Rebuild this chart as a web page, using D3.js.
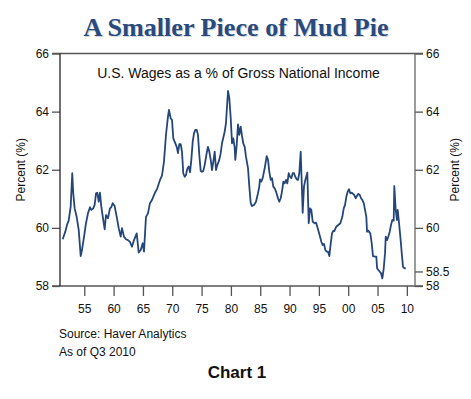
<!DOCTYPE html>
<html>
<head>
<meta charset="utf-8">
<script src="https://cdn.jsdelivr.net/npm/d3@7"></script>
<style>
  body { margin: 0; background: #fff; }
  svg { display: block; }
  text { font-family: "Liberation Sans", Arial, sans-serif; fill: #111; }
</style>
</head>
<body>
<div id="chart"></div>
<script>
// quarterly-ish readings
const years = [
  1951.32, 1951.76, 1952.10, 1952.34, 1952.68, 1952.95, 1953.12, 1953.36, 1953.70, 1954.05,
  1954.39, 1954.61, 1954.95, 1955.29, 1955.63, 1955.97, 1956.19, 1956.53, 1956.77, 1957.00,
  1957.22, 1957.46, 1957.68, 1957.90, 1958.24, 1958.48, 1958.70, 1959.04, 1959.38, 1959.60,
  1959.84, 1960.18, 1960.53, 1960.87, 1961.21, 1961.43, 1961.77, 1962.11, 1962.45, 1962.79,
  1963.13, 1963.48, 1963.94, 1964.28, 1964.62, 1964.96, 1965.18, 1965.52, 1965.86, 1966.20,
  1966.54, 1967.01, 1967.45, 1967.91, 1968.25, 1968.59, 1968.93, 1969.27, 1969.44, 1969.73,
  1969.96, 1970.18, 1970.52, 1970.76, 1970.98, 1971.20, 1971.44, 1971.66, 1971.88, 1972.12,
  1972.34, 1972.56, 1972.80, 1973.03, 1973.25, 1973.49, 1973.71, 1973.93, 1974.17, 1974.39,
  1974.61, 1974.85, 1975.07, 1975.29, 1975.53, 1975.87, 1976.09, 1976.32, 1976.56, 1976.78,
  1977.00, 1977.24, 1977.46, 1977.68, 1978.02, 1978.26, 1978.48, 1978.70, 1978.94, 1979.16,
  1979.39, 1979.51, 1979.73, 1979.97, 1980.19, 1980.41, 1980.65, 1980.75, 1980.99, 1981.21,
  1981.43, 1981.67, 1981.89, 1982.11, 1982.35, 1982.57, 1982.92, 1983.14, 1983.38, 1983.60,
  1983.94, 1984.28, 1984.62, 1984.84, 1984.96, 1985.18, 1985.42, 1985.76, 1986.10, 1986.33,
  1986.55, 1986.79, 1987.01, 1987.23, 1987.47, 1987.69, 1988.03, 1988.25, 1988.49, 1988.71,
  1988.94, 1989.17, 1989.40, 1989.62, 1989.86, 1990.08, 1990.30, 1990.54, 1990.76, 1990.98,
  1991.22, 1991.44, 1991.66, 1991.90, 1992.12, 1992.24, 1992.46, 1992.69, 1993.03, 1993.27,
  1993.49, 1993.71, 1993.95, 1994.29, 1994.51, 1994.73, 1994.97, 1995.19, 1995.42, 1995.66,
  1995.88, 1996.10, 1996.34, 1996.56, 1996.78, 1997.02, 1997.24, 1997.46, 1997.63, 1997.97,
  1998.31, 1998.66, 1999.00, 1999.24, 1999.46, 1999.68, 1999.92, 2000.14, 2000.36, 2000.60,
  2000.82, 2001.04, 2001.28, 2001.50, 2001.73, 2001.97, 2002.19, 2002.41, 2002.65, 2002.87,
  2003.09, 2003.21, 2003.43, 2003.77, 2004.01, 2004.23, 2004.57, 2004.80, 2004.92, 2005.14,
  2005.38, 2005.60, 2005.82, 2006.06, 2006.28, 2006.40, 2006.62, 2006.84, 2007.08, 2007.30,
  2007.52, 2007.76, 2007.86, 2008.10, 2008.32, 2008.44, 2008.67, 2008.89, 2009.13, 2009.35,
  2009.57, 2009.81
];
const wages = [
  59.61, 59.87, 60.13, 60.25, 60.73, 61.88, 61.19, 60.67, 60.38, 59.93,
  59.03, 59.24, 59.68, 60.16, 60.50, 60.71, 60.62, 60.67, 60.79, 61.19,
  61.21, 60.90, 61.21, 60.73, 60.27, 59.95, 60.44, 60.33, 60.67, 60.71,
  60.85, 60.75, 60.38, 59.99, 59.70, 59.99, 59.70, 59.61, 59.58, 59.52,
  59.35, 59.58, 59.81, 59.15, 59.24, 59.47, 59.18, 60.38, 60.50, 60.85,
  60.96, 61.19, 61.36, 61.65, 61.80, 62.28, 63.20, 63.83, 64.06, 63.77,
  63.71, 63.08, 62.91, 62.79, 62.57, 62.88, 62.88, 62.62, 61.88, 61.76,
  61.82, 62.03, 62.11, 61.91, 62.34, 62.97, 63.25, 63.37, 63.37, 63.20,
  62.51, 61.96, 61.93, 61.96, 62.16, 62.57, 62.79, 62.62, 62.34, 61.99,
  62.28, 62.62, 61.99, 62.16, 62.34, 62.57, 62.91, 63.10, 63.31, 63.60,
  64.34, 64.71, 64.46, 63.77, 62.91, 63.08, 62.74, 62.34, 62.85, 63.56,
  63.20, 63.48, 63.17, 62.91, 62.79, 62.45, 62.05, 61.42, 60.85, 60.75,
  60.79, 60.90, 61.19, 61.42, 61.67, 61.59, 61.71, 62.05, 62.47, 62.34,
  61.93, 61.65, 61.71, 61.42, 61.36, 61.25, 61.02, 60.90, 61.02, 61.25,
  61.59, 61.53, 61.65, 61.53, 61.88, 61.76, 61.71, 61.88, 61.88, 61.76,
  61.67, 61.65, 61.88, 62.62, 61.30, 60.52, 61.42, 61.65, 61.90, 60.16,
  60.67, 60.62, 60.21, 60.16, 60.18, 60.04, 59.87, 59.70, 59.52, 59.41,
  59.45, 59.24, 59.18, 59.18, 59.03, 59.47, 59.81, 59.90, 59.89, 60.04,
  60.10, 60.16, 60.38, 60.67, 60.79, 61.07, 61.25, 61.33, 61.19, 61.21,
  61.17, 61.13, 61.02, 61.10, 61.17, 61.13, 61.02, 60.96, 60.85, 60.62,
  60.38, 59.87, 59.90, 59.81, 59.47, 59.03, 59.01, 59.01, 58.61, 58.55,
  58.49, 58.44, 58.26, 58.61, 59.13, 59.70, 59.58, 59.70, 59.87, 60.10,
  60.27, 60.25, 61.44, 60.62, 60.27, 60.62, 60.16, 59.70, 59.13, 58.66,
  58.61, 58.61
];
const xTicks = [1955, 1960, 1965, 1970, 1975, 1980, 1985, 1990, 1995, 2000, 2005, 2010];
const leftTicks = [58, 60, 62, 64, 66];
const rightTicks = [58, 58.5, 60, 62, 64, 66];

const title = 'A Smaller Piece of Mud Pie';
const subtitle = 'U.S. Wages as a % of Gross National Income';
const yLabel = 'Percent (%)';
const notes = ['Source: Haver Analytics', 'As of Q3 2010'];
const caption = 'Chart 1';

const width = 471, height = 399;
const margin = { left: 60, right: 56, top: 53.5, bottom: 113 };
const plotW = width - margin.left - margin.right;
const plotH = height - margin.top - margin.bottom;
const tickLen = 8;

const svg = d3.select('#chart').append('svg')
  .attr('width', width)
  .attr('height', height);

const x = d3.scaleLinear().domain([1950.86, 2011.39]).range([0, plotW]);
const y = d3.scaleLinear().domain([58, 66]).range([plotH, 0]);

// title with soft shadow
svg.append('text')
  .attr('x', 237).attr('y', 37)
  .attr('text-anchor', 'middle')
  .style('font-family', '"Liberation Serif", "DejaVu Serif", serif')
  .style('font-weight', 'bold')
  .style('font-size', '26px')
  .style('fill', '#d3d8e0')
  .attr('textLength', 305).attr('lengthAdjust', 'spacingAndGlyphs')
  .text(title);
svg.append('text')
  .attr('x', 236).attr('y', 36)
  .attr('text-anchor', 'middle')
  .style('font-family', '"Liberation Serif", "DejaVu Serif", serif')
  .style('font-weight', 'bold')
  .style('font-size', '26px')
  .style('fill', '#2a4a7c')
  .attr('textLength', 305).attr('lengthAdjust', 'spacingAndGlyphs')
  .text(title);

const g = svg.append('g')
  .attr('transform', `translate(${margin.left},${margin.top})`);

// frame: top and bottom lines run out over the tick marks
g.append('line')
  .attr('x1', -tickLen).attr('x2', plotW + tickLen)
  .attr('y1', 0).attr('y2', 0)
  .style('stroke', '#555').style('stroke-width', 1.3);
g.append('line')
  .attr('x1', -tickLen).attr('x2', plotW + tickLen)
  .attr('y1', plotH).attr('y2', plotH)
  .style('stroke', '#555').style('stroke-width', 1.3);

const leftAxis = g.append('g')
  .call(d3.axisLeft(y).tickValues(leftTicks).tickSize(tickLen).tickPadding(3).tickFormat(d3.format('d')));
const rightAxis = g.append('g')
  .attr('transform', `translate(${plotW},0)`)
  .call(d3.axisRight(y).tickValues(rightTicks).tickSize(tickLen).tickPadding(3)
    .tickFormat(d => d === 58.5 ? '58.5' : d3.format('d')(d)));
const bottomAxis = g.append('g')
  .attr('transform', `translate(0,${plotH})`)
  .call(d3.axisBottom(x).tickValues(xTicks).tickSize(10).tickPadding(8)
    .tickFormat(d => String(d % 100).padStart(2, '0')));

[leftAxis, rightAxis, bottomAxis].forEach(a => {
  a.select('.domain').remove();
  a.selectAll('.tick line').style('stroke', '#555').style('stroke-width', 1.3);
  a.selectAll('.tick text')
    .style('font-family', '"Liberation Sans", Arial, sans-serif')
    .style('font-size', '12px')
    .style('fill', '#111');
});
g.append('line')
  .attr('x1', 0).attr('x2', 0).attr('y1', 0).attr('y2', plotH)
  .style('stroke', '#222').style('stroke-width', 1.3);
g.append('line')
  .attr('x1', plotW).attr('x2', plotW).attr('y1', 0).attr('y2', plotH)
  .style('stroke', '#666').style('stroke-width', 1.3);

// axis titles
svg.append('text')
  .attr('transform', `translate(25,${margin.top + plotH / 2}) rotate(-90)`)
  .attr('text-anchor', 'middle')
  .style('font-size', '12px')
  .text(yLabel);
svg.append('text')
  .attr('transform', `translate(459,${margin.top + plotH / 2}) rotate(-90)`)
  .attr('text-anchor', 'middle')
  .style('font-size', '12px')
  .text(yLabel);

g.append('text')
  .attr('x', plotW / 2 + 1).attr('y', 24.5)
  .attr('text-anchor', 'middle')
  .style('font-size', '14px')
  .text(subtitle);

const data = years.map((yr, i) => ({ year: yr, value: wages[i] }));
const line = d3.line()
  .x(d => x(d.year))
  .y(d => y(d.value));

g.append('path')
  .datum(data)
  .attr('d', line)
  .style('fill', 'none')
  .style('stroke', '#24467a')
  .style('stroke-width', 1.8)
  .style('stroke-linejoin', 'round');

svg.selectAll('.note')
  .data(notes)
  .enter().append('text')
  .attr('class', 'note')
  .attr('x', 59)
  .attr('y', (d, i) => 338 + i * 18)
  .style('font-size', '12px')
  .text(d => d);

svg.append('text')
  .attr('x', 237).attr('y', 378)
  .attr('text-anchor', 'middle')
  .style('font-size', '17px')
  .style('font-weight', 'bold')
  .text(caption);
</script>
</body>
</html>
